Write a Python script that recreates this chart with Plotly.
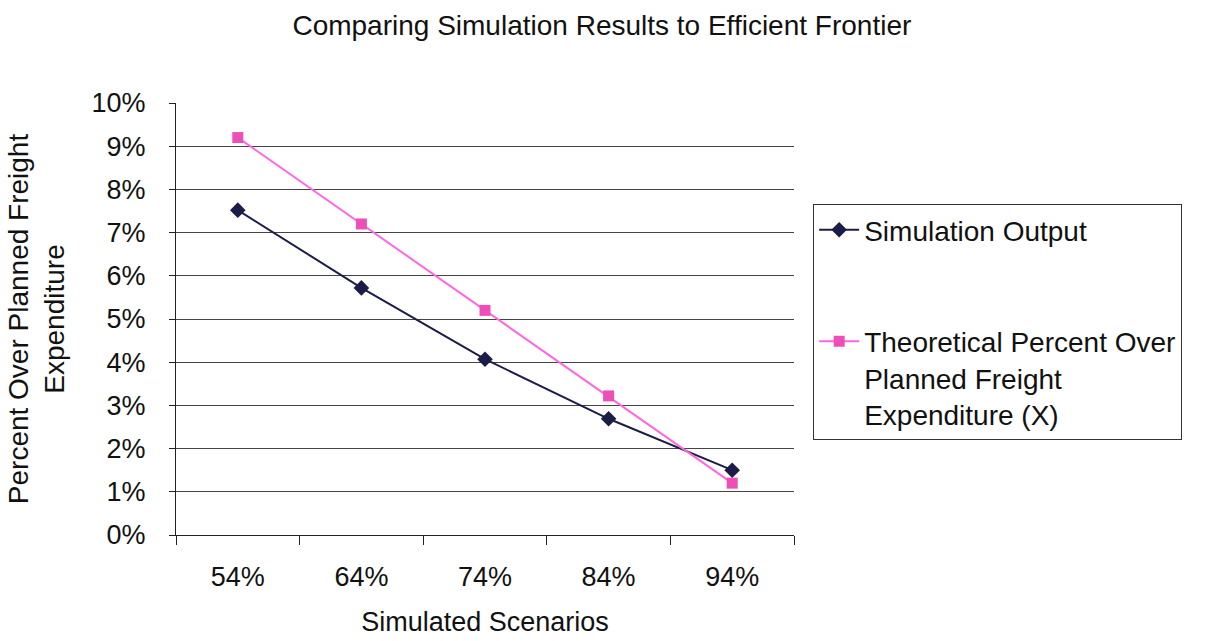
import plotly.graph_objects as go

scenarios = ["54%", "64%", "74%", "84%", "94%"]
simulation_output = [0.0752, 0.0572, 0.0407, 0.0269, 0.0150]
theoretical = [0.0920, 0.0720, 0.0520, 0.0322, 0.0120]
y_ticks = [0, 0.01, 0.02, 0.03, 0.04, 0.05, 0.06, 0.07, 0.08, 0.09, 0.10]

FONT = "Liberation Sans, Arial, sans-serif"

fig = go.Figure()
fig.add_trace(go.Scatter(
    x=scenarios, y=simulation_output, name="Simulation Output",
    mode="lines+markers", legendgroup="a",
    line=dict(color="#1c1c48", width=2),
    marker=dict(symbol="diamond", size=12, color="#1c1c48"),
))
fig.add_trace(go.Scatter(
    x=scenarios, y=theoretical,
    name="Theoretical Percent Over<br>Planned Freight<br>Expenditure (X)",
    mode="lines+markers", legendgroup="b",
    line=dict(color="#ff66e0", width=2),
    marker=dict(symbol="square", size=11, color="#ec4fb8"),
))

fig.update_layout(
    width=1211, height=641,
    paper_bgcolor="white", plot_bgcolor="white",
    margin=dict(l=176, r=417, t=103, b=106),
    font=dict(family=FONT, color="#111", size=28),
    title=dict(text="Comparing Simulation Results to Efficient Frontier",
               x=0.497, xanchor="center", y=0.96, yanchor="middle",
               font=dict(size=28, color="#111")),
    showlegend=True,
    legend=dict(
        x=1.031, xanchor="left", y=0.766, yanchor="top",
        bordercolor="#333", borderwidth=1, bgcolor="white",
        font=dict(size=28, color="#111"),
        traceorder="grouped", tracegroupgap=72, valign="top",
        itemwidth=40,
    ),
)
fig.update_xaxes(
    type="category", range=[-0.5, 4.5], tickson="boundaries", ticks="outside", ticklen=9,
    tickcolor="#222", showline=True, linecolor="#222", linewidth=1,
    showgrid=False, tickfont=dict(size=27), ticklabelstandoff=18,
    automargin=False,
    title=dict(text="Simulated Scenarios", font=dict(size=27), standoff=20),
)
fig.update_yaxes(
    range=[0, 0.10], tickvals=y_ticks, tickformat=".0%", ticks="outside",
    ticklen=6, tickcolor="#222", showline=True, linecolor="#222", linewidth=1,
    showgrid=True, gridcolor="#444", gridwidth=1, zeroline=False,
    tickfont=dict(size=27), ticklabelstandoff=18, automargin=False,
    title=dict(text="Percent Over Planned Freight<br>Expenditure", font=dict(size=28), standoff=18),
)

fig.write_html("out.html")
